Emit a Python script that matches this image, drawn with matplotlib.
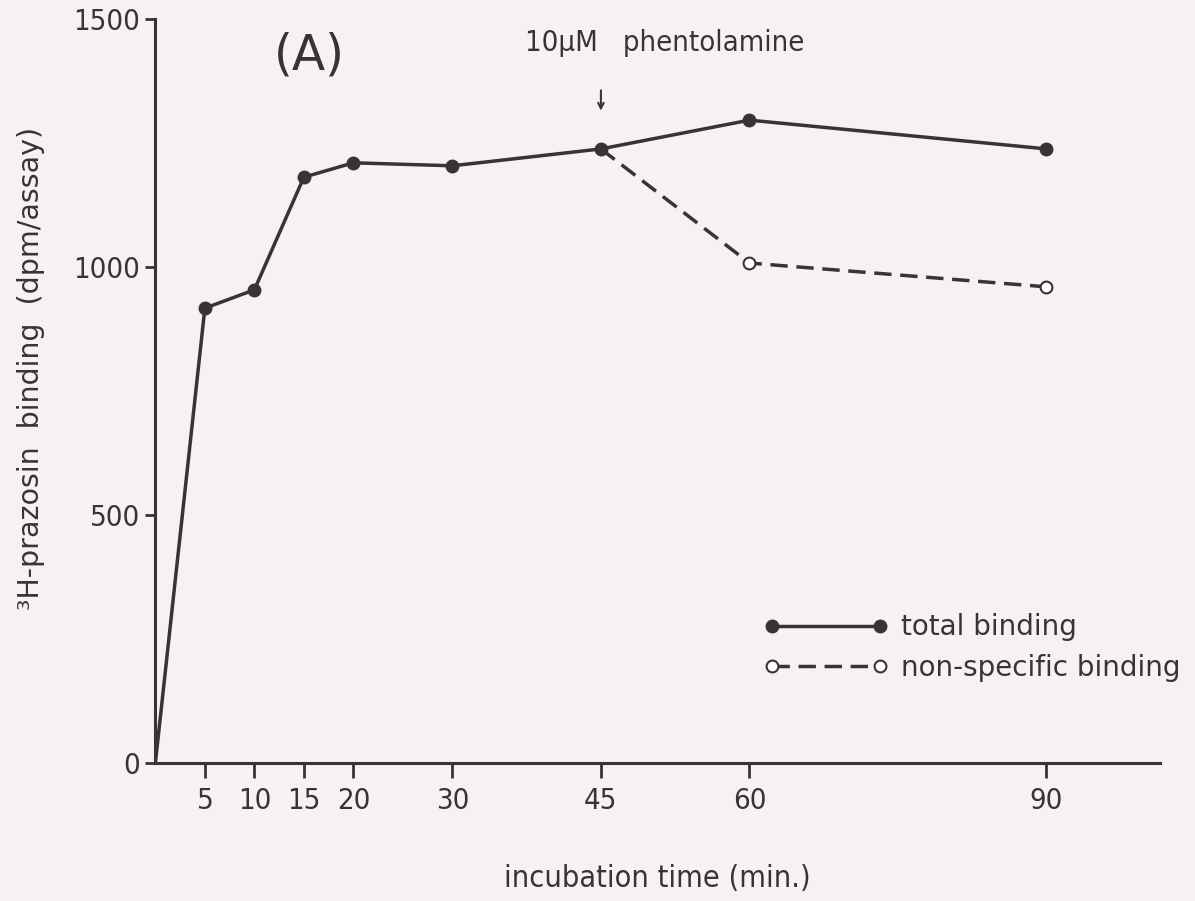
import matplotlib.pyplot as plt

# data
time_total = [0, 5, 10, 15, 20, 30, 45, 60, 90]
total_binding = [0, 917, 954, 1181, 1210, 1204, 1238, 1296, 1238]
time_nonspec = [45, 60, 90]
nonspec_binding = [1238, 1008, 960]
xticks = [5, 10, 15, 20, 30, 45, 60, 90]
yticks = [0, 500, 1000, 1500]

ink = '#3a3236'
bg = '#f6f2f3'

fig = plt.figure(figsize=(11.95, 9.01), dpi=100, facecolor=bg)
ax = fig.add_axes([0.130, 0.153, 0.841, 0.826], facecolor=bg)

ax.plot(time_total, total_binding, color=ink, lw=2.5, marker='o', ms=9,
        markevery=list(range(1, len(time_total))), label='total binding')
ax.plot(time_nonspec, nonspec_binding, color=ink, lw=2.5, ls=(0, (5, 2.5)),
        marker='o', ms=8.5, mfc='white', mec=ink, mew=1.5,
        markevery=[1, 2], label='non-specific binding')

ax.set_xlim(0, 101.5)
ax.set_ylim(0, 1500)
ax.set_xticks(xticks)
ax.set_yticks(yticks)
for s in ['top', 'right']:
    ax.spines[s].set_visible(False)
for s in ['left', 'bottom']:
    ax.spines[s].set_linewidth(2.2)
    ax.spines[s].set_color(ink)
ax.tick_params(axis='x', length=11, width=2, color=ink, pad=6)
ax.tick_params(axis='y', length=7, width=2, color=ink, pad=4)
for lab in ax.get_xticklabels() + ax.get_yticklabels():
    lab.set_fontstretch('condensed')
    lab.set_fontsize(21)
    lab.set_color(ink)

ax.set_xlabel('incubation time (min.)', fontstretch='condensed', fontsize=22,
              color=ink, va='top')
ax.xaxis.set_label_coords(0.5, -0.135)
ax.set_ylabel('³H-prazosin  binding  (dpm/assay)', fontsize=20.5,
              color=ink)
ax.yaxis.set_label_coords(-0.11, 0.531)

ax.text(15.6, 1427, '(A)', fontsize=35, color=ink, ha='center', va='center')
ax.text(37.3, 1452, '10μM   phentolamine', fontstretch='condensed',
        fontsize=21, color=ink, ha='left', va='center')
ax.annotate('', xy=(45, 1315), xytext=(45, 1356),
            arrowprops=dict(arrowstyle='->', color=ink, lw=1.5,
                            shrinkA=0, shrinkB=0))

leg = ax.legend(loc='upper left', bbox_to_anchor=(0.58, 0.235), frameon=False,
                fontsize=20, handlelength=4.5, numpoints=2, labelspacing=0.45,
                handletextpad=0.45)
for t in leg.get_texts():
    t.set_color(ink)

fig.savefig('out.png', dpi=100, facecolor=bg)
